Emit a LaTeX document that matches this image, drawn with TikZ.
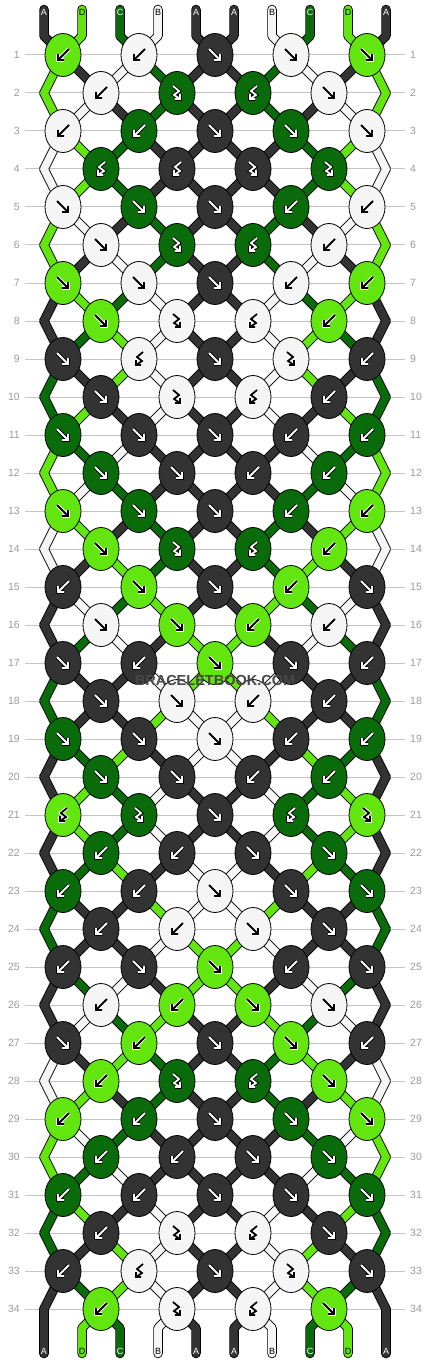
\documentclass[tikz,border=0pt]{standalone}
\usepackage{fontspec}
\setmainfont{Liberation Sans}
\usetikzlibrary{shapes.geometric}

\definecolor{colA}{HTML}{333333}
\definecolor{colB}{HTML}{F5F5F5}
\definecolor{colC}{HTML}{0A6B0A}
\definecolor{colD}{HTML}{63E60F}
\colorlet{arrA}{white}\colorlet{rimA}{black}
\colorlet{arrB}{black}\colorlet{rimB}{white}
\colorlet{arrC}{white}\colorlet{rimC}{black}
\colorlet{arrD}{black}\colorlet{rimD}{white}
\definecolor{numgray}{HTML}{9A9A9A}
\definecolor{linegray}{HTML}{C4C4C4}

% arrow icons inside the knots
\newcommand{\iconf}{(-6,-6) -- (5,5) (5,-1) -- (5,5) -- (-1,5)}
\newcommand{\iconb}{(6,-6) -- (-5,5) (-5,-1) -- (-5,5) -- (1,5)}
\newcommand{\iconfb}{(-4,-7) -- (2,-2) -- (-3,2) -- (3,6) (3,1) -- (3,6) -- (-2,6)}
\newcommand{\iconbf}{(4,-7) -- (-2,-2) -- (3,2) -- (-3,6) (-3,1) -- (-3,6) -- (2,6)}

% string colour after each row
\newcommand{\strandrows}{
  1/{D,A,B,C,A,A,C,B,A,D}, 2/{D,B,A,C,A,A,C,A,B,D}, 3/{B,D,C,A,A,A,A,C,D,B},
  4/{B,D,C,A,A,A,A,C,D,B}, 5/{D,B,A,C,A,A,C,A,B,D}, 6/{D,A,B,C,A,A,C,B,A,D},
  7/{A,D,C,B,A,A,B,C,D,A}, 8/{A,C,D,B,A,A,B,D,C,A}, 9/{C,A,D,B,A,A,B,D,A,C},
  10/{C,D,A,B,A,A,B,A,D,C}, 11/{D,C,B,A,A,A,A,B,C,D}, 12/{D,B,C,A,A,A,A,C,B,D},
  13/{B,D,A,C,A,A,C,A,D,B}, 14/{B,A,D,C,A,A,C,D,A,B}, 15/{A,B,C,D,A,A,D,C,B,A},
  16/{A,C,B,A,D,D,A,B,C,A}, 17/{C,A,A,B,D,D,B,A,A,C}, 18/{C,A,A,D,B,B,D,A,A,C},
  19/{A,C,D,A,B,B,A,D,C,A}, 20/{A,D,C,B,A,A,B,C,D,A}, 21/{A,D,C,B,A,A,B,C,D,A},
  22/{A,C,D,A,B,B,A,D,C,A}, 23/{C,A,A,D,B,B,D,A,A,C}, 24/{C,A,A,B,D,D,B,A,A,C},
  25/{A,C,B,A,D,D,A,B,C,A}, 26/{A,B,C,D,A,A,D,C,B,A}, 27/{B,A,D,C,A,A,C,D,A,B},
  28/{B,D,A,C,A,A,C,A,D,B}, 29/{D,B,C,A,A,A,A,C,B,D}, 30/{D,C,B,A,A,A,A,B,C,D},
  31/{C,D,A,B,A,A,B,A,D,C}, 32/{C,A,D,B,A,A,B,D,A,C}, 33/{A,C,D,B,A,A,B,D,C,A}}

% all string pieces, drawn once as rim and once as yarn
\newcommand{\strands}[1]{
  \foreach \c [count=\p] in {A,D,C,B,A,A,B,C,D,A} {
    \pgfmathtruncatemacro\k{floor((\p+1)/2)}
    \draw[#1=\c] ([yshift=3pt]top-\p.center) -- ([yshift=-23.5pt]top-\p.center) -- (k-1-\k.center);
    \pgfmathtruncatemacro\k{floor(\p/2)}
    \draw[#1=\c] (k-34-\k.center) -- ([yshift=23.5pt]bot-\p.center) -- ([yshift=-2pt]bot-\p.center);
  }
  \foreach \r/\row in \strandrows {
    \pgfmathtruncatemacro\rb{\r+1}
    \foreach \c [count=\p] in \row {
      \pgfmathtruncatemacro\ka{floor((\p+mod(\r,2))/2)}
      \pgfmathtruncatemacro\kb{floor((\p+mod(\rb,2))/2)}
      \draw[#1=\c] (k-\r-\ka.center) -- (k-\rb-\kb.center);
    }
  }
}

\pgfdeclarelayer{grid}
\pgfdeclarelayer{rim}
\pgfdeclarelayer{yarn}
\pgfsetlayers{grid,rim,yarn,main}

\tikzset{
  knot/.style={ellipse, draw=black, line width=0.8pt, minimum width=36pt, minimum height=43pt, inner sep=0pt},
  rim/.style={draw=black, line width=9.5pt, line cap=round, line join=round},
  yarn/.style={draw=col#1, line width=7.7pt, line cap=round, line join=round},
  iconrim/.style={line width=3.6pt, line join=miter},
  iconline/.style={line width=1.8pt, line join=miter},
  rowno/.style={text=numgray, font=\fontsize{10.5}{12}\selectfont, inner xsep=5pt, inner ysep=0pt},
  gridline/.style={draw=linegray, line width=1pt},
  endlab/.style={font=\fontsize{9}{10}\selectfont, inner sep=0pt}
}

\begin{document}
\begin{tikzpicture}[x=1pt,y=-1pt]
\useasboundingbox (0,0) rectangle (430,1364);

% knots and row numbers
\foreach \r/\row in {
  1/{D/b,B/b,A/f,B/f,D/f}, 2/{B/b,C/fb,C/bf,B/f}, 3/{B/b,C/b,A/f,C/f,B/f},
  4/{C/bf,A/bf,A/fb,C/fb}, 5/{B/f,C/f,A/f,C/b,B/b}, 6/{B/f,C/fb,C/bf,B/b},
  7/{D/f,B/f,A/f,B/b,D/b}, 8/{D/f,B/fb,B/bf,D/b}, 9/{A/f,B/bf,A/f,B/fb,A/b},
  10/{A/f,B/fb,B/bf,A/b}, 11/{C/f,A/f,A/f,A/b,C/b}, 12/{C/f,A/f,A/b,C/b},
  13/{D/f,C/f,A/f,C/b,D/b}, 14/{D/f,C/fb,C/bf,D/b}, 15/{A/b,D/f,A/f,D/b,A/f},
  16/{B/f,D/f,D/b,B/b}, 17/{A/f,A/b,D/f,A/f,A/b}, 18/{A/f,B/f,B/b,A/b},
  19/{C/f,A/f,B/f,A/b,C/b}, 20/{C/f,A/f,A/b,C/b}, 21/{D/bf,C/fb,A/f,C/bf,D/fb},
  22/{C/b,A/b,A/f,C/f}, 23/{C/b,A/b,B/f,A/f,C/f}, 24/{A/b,B/b,B/f,A/f},
  25/{A/b,A/f,D/f,A/b,A/f}, 26/{B/b,D/b,D/f,B/f}, 27/{A/f,D/b,A/f,D/f,A/b},
  28/{D/b,C/fb,C/bf,D/f}, 29/{D/b,C/b,A/f,C/f,D/f}, 30/{C/b,A/b,A/f,C/f},
  31/{C/b,A/b,A/f,A/f,C/f}, 32/{A/b,B/fb,B/bf,A/f}, 33/{A/b,B/bf,A/f,B/fb,A/f},
  34/{D/b,B/fb,B/bf,D/f}} {
  \pgfmathsetmacro\ky{55+38*(\r-1)}
  \node[rowno, anchor=east] (l-\r) at (25,\ky) {\r};
  \node[rowno, anchor=west] (r-\r) at (405,\ky) {\r};
  \ifodd\r \else
    \coordinate (k-\r-0) at (44,\ky);
    \coordinate (k-\r-5) at (386,\ky);
  \fi
  \foreach \c/\kt [count=\k] in \row {
    \pgfmathsetmacro\kx{(isodd(\r) ? 63 : 101) + 76*(\k-1)}
    \node[knot, fill=col\c] (k-\r-\k) at (\kx,\ky) {};
    \expandafter\let\expandafter\kpath\csname icon\kt\endcsname
    \draw[iconrim, draw=rim\c, shift={(k-\r-\k.center)}] \kpath;
    \draw[iconline, draw=arr\c, shift={(k-\r-\k.center)}] \kpath;
  }
}

% string names at both ends
\foreach \c [count=\p] in {A,D,C,B,A,A,B,C,D,A} {
  \pgfmathsetmacro\sx{44+38*(\p-1)}
  \node[endlab, text=arr\c] (top-\p) at (\sx,12.5) {\c};
  \node[endlab, text=arr\c] (bot-\p) at (\sx,1351.5) {\c};
}

\begin{pgfonlayer}{grid}
  \foreach \r in {1,...,34}
    \draw[gridline] (l-\r.east) -- (r-\r.west);
\end{pgfonlayer}
\begin{pgfonlayer}{rim}
  \strands{rim}
\end{pgfonlayer}
\begin{pgfonlayer}{yarn}
  \strands{yarn}
\end{pgfonlayer}

\node[font=\bfseries\fontsize{14.5}{16}\selectfont, text=black!72] (mark) at (215,681) {BRACELETBOOK.COM};
\end{tikzpicture}
\end{document}
